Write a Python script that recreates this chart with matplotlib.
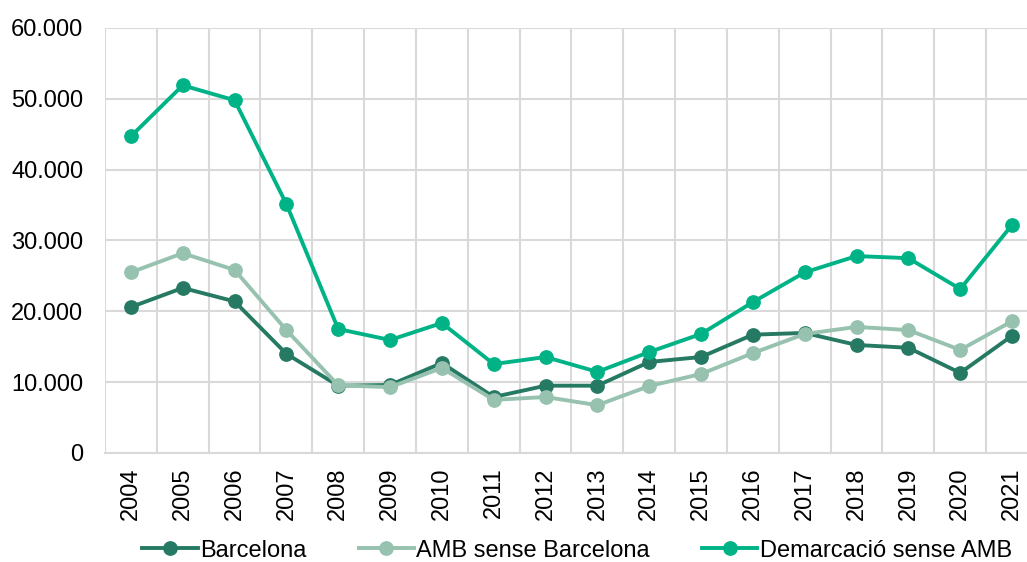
import matplotlib
matplotlib.use("Agg")
import matplotlib.pyplot as plt
from matplotlib.ticker import FuncFormatter, MultipleLocator

plt.rcParams['font.family'] = ['Liberation Sans', 'DejaVu Sans']

years = [str(y) for y in range(2004, 2022)]
barcelona = [20600, 23300, 21400, 14000, 9500, 9600, 12700, 7900, 9500, 9500,
             12850, 13550, 16700, 16950, 15250, 14850, 11300, 16550]
amb_sense_bcn = [25500, 28200, 25850, 17350, 9550, 9300, 12000, 7500, 7900, 6750,
                 9450, 11150, 14100, 16800, 17800, 17350, 14550, 18600]
demarcacio_sense_amb = [44700, 51900, 49800, 35150, 17500, 15950, 18350, 12550, 13550, 11450,
                        14250, 16800, 21300, 25500, 27800, 27500, 23150, 32200]

series = [
    ("Barcelona", barcelona, "#267a63"),
    ("AMB sense Barcelona", amb_sense_bcn, "#96c2af"),
    ("Demarcació sense AMB", demarcacio_sense_amb, "#00b386"),
]

fig = plt.figure(figsize=(10.27, 5.62), dpi=100)
ax = fig.add_axes([0.1022, 0.194, 0.9085, 0.7562])

x = list(range(len(years)))
for label, vals, color in series:
    ax.plot(x, vals, color=color, lw=2.8, marker='o', markersize=9.6,
            label=label, zorder=3)

ax.set_xlim(-0.5, len(years) - 0.5)
ax.set_ylim(0, 60000)
ax.yaxis.set_major_locator(MultipleLocator(10000))
ax.yaxis.set_major_formatter(FuncFormatter(lambda v, p: f"{int(v):,}".replace(",", ".")))
ax.set_xticks(x)
ax.set_xticklabels(years, rotation=90)
ax.set_xticks([i - 0.5 for i in range(len(years) + 1)], minor=True)

ax.grid(axis='y', which='major', color='#d9d9d9', lw=1.5)
ax.grid(axis='x', which='minor', color='#d9d9d9', lw=1.5)
ax.set_axisbelow(True)

for s in ['top', 'right', 'left']:
    ax.spines[s].set_visible(False)
ax.spines['bottom'].set_color('#d9d9d9')
ax.spines['bottom'].set_linewidth(1.5)

ax.tick_params(axis='both', which='both', length=0, labelsize=17, colors='black')
ax.tick_params(axis='y', pad=15.5)
ax.tick_params(axis='x', pad=10.5)

leg = fig.legend(loc='center', bbox_to_anchor=(0.562, 0.020), ncol=3,
                 frameon=False, fontsize=17, handlelength=2.35, columnspacing=2.2,
                 handletextpad=0.1, borderpad=0, borderaxespad=0)

fig.savefig("out.png", dpi=100)
